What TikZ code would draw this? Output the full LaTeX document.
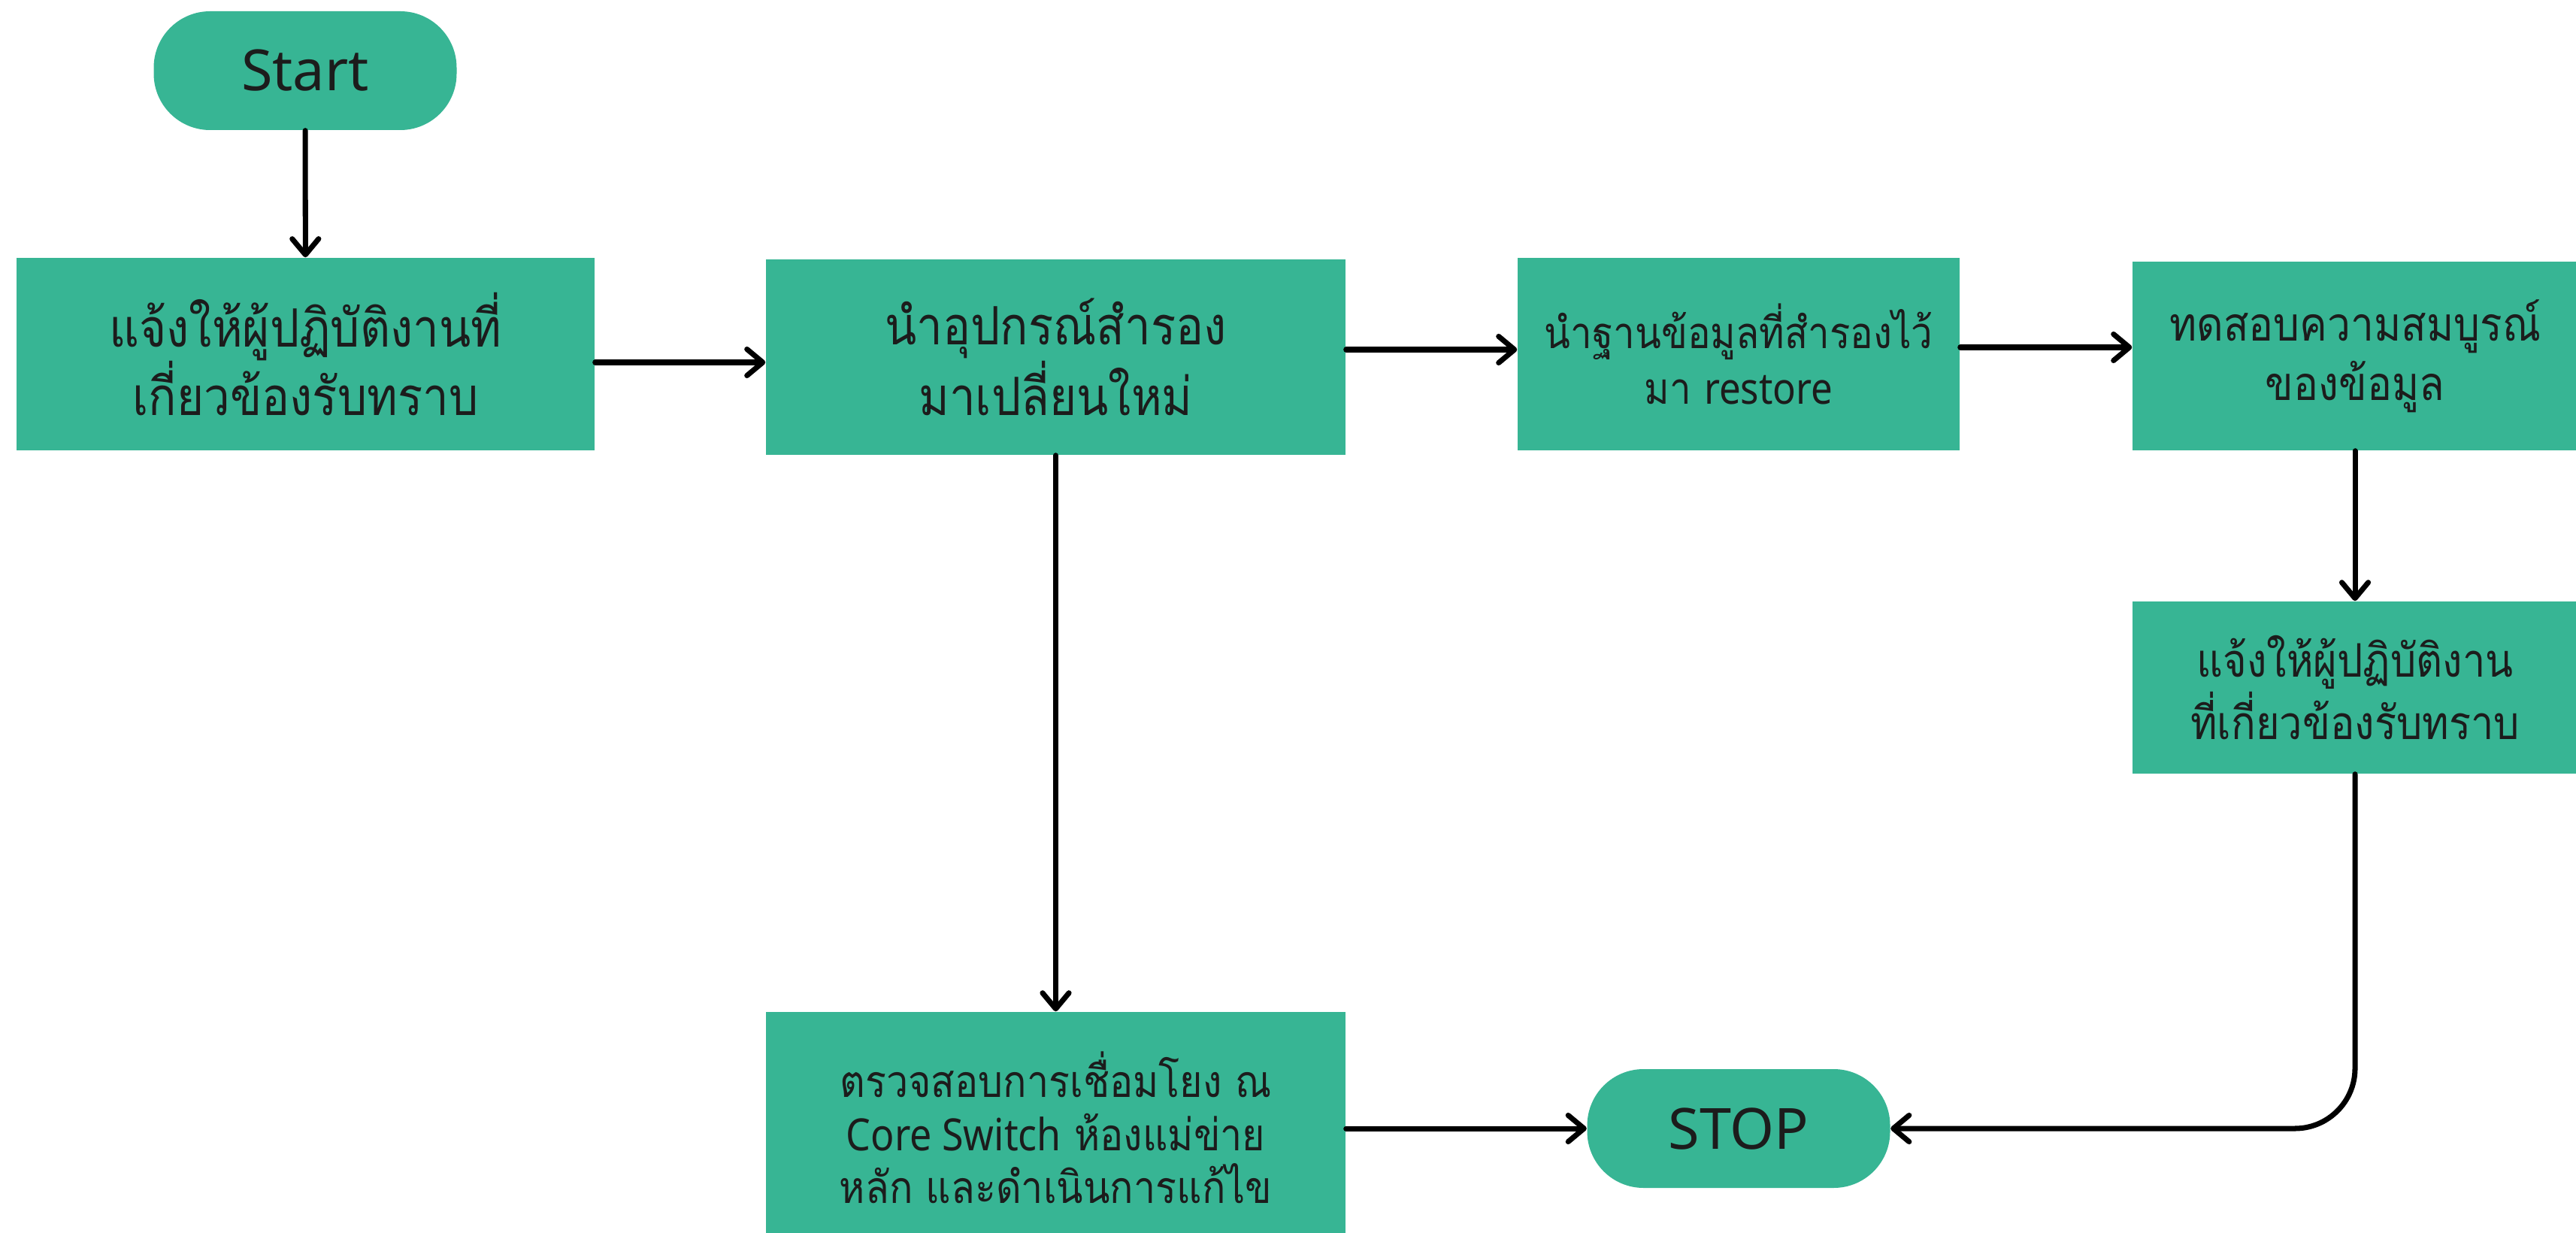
\documentclass[tikz,border=0pt]{standalone}
\usepackage{fontspec}
\newfontfamily\thaifont[Script=Thai, FakeStretch=0.88]{Loma}
\newfontfamily\latinfont[FakeStretch=0.88]{Noto Sans}
\newfontfamily\termfont{Noto Sans}
\usetikzlibrary{arrows.meta}
\definecolor{boxgreen}{HTML}{37B594}
\definecolor{ink}{HTML}{1C1C1C}
\tikzset{
  procbox/.style={rectangle, fill=boxgreen, text=ink, align=center, inner sep=0pt},
  termbox/.style={rectangle, rounded corners=0.75cm, fill=boxgreen, text=ink,
    align=center, inner sep=0pt, minimum width=4.03cm, minimum height=1.58cm,
    font=\termfont\fontsize{21.5}{26}\selectfont},
  flow/.style={draw=black, line width=2pt, line join=round, line cap=round,
    -{Straight Barb[length=6pt,width=10pt,line width=2pt,round]}},
}
\begin{document}
\begin{tikzpicture}
\useasboundingbox (0,0) rectangle (34.27,-16.40);
\clip (0,0) rectangle (34.27,-16.40);
\fill[white] (0,0) rectangle (34.27,-16.40);

% terminals
\node[termbox] (start) at (4.06,-0.94) {Start};
\node[termbox] (stop) at (23.13,-15.01) {STOP};

% process steps
\node[procbox, minimum width=7.69cm, minimum height=2.56cm,
  font=\thaifont\fontsize{20}{26}\selectfont] (notify1) at (4.065,-4.71)
  {แจ้งให้ผู้ปฏิบัติงานที่\\เกี่ยวข้องรับทราบ};
\node[procbox, minimum width=7.71cm, minimum height=2.60cm,
  font=\thaifont\fontsize{20}{25}\selectfont] (replace) at (14.045,-4.75)
  {นำอุปกรณ์สำรอง\\มาเปลี่ยนใหม่};
\node[procbox, minimum width=5.88cm, minimum height=2.56cm,
  font=\thaifont\fontsize{16.5}{21}\selectfont] (restore) at (23.13,-4.71)
  {นำฐานข้อมูลที่สำรองไว้\\มา {\latinfont restore}};
\node[procbox, minimum width=5.92cm, minimum height=2.51cm,
  font=\thaifont\fontsize{17.8}{22.5}\selectfont] (verify) at (31.33,-4.735)
  {ทดสอบความสมบูรณ์\\ของข้อมูล};
\node[procbox, minimum width=5.92cm, minimum height=2.29cm,
  font=\thaifont\fontsize{17.5}{22}\selectfont] (notify2) at (31.33,-9.145)
  {แจ้งให้ผู้ปฏิบัติงาน\\ที่เกี่ยวข้องรับทราบ};
\node[procbox, minimum width=7.71cm, minimum height=3.08cm,
  font=\thaifont\fontsize{16.8}{20}\selectfont] (check) at (14.045,-15.0)
  {ตรวจสอบการเชื่อมโยง ณ\\{\latinfont Core Switch} ห้องแม่ข่าย\\หลัก และดำเนินการแก้ไข};

% connectors
\draw[flow] (start) -- (notify1);
\draw[flow] (notify1.east |- 0,-4.82) -- (replace.west |- 0,-4.82);
\draw[flow] (replace.east |- 0,-4.65) -- (restore.west |- 0,-4.65);
\draw[flow] (restore.east |- 0,-4.62) -- (verify.west |- 0,-4.62);
\draw[flow] (verify) -- (notify2);
\draw[flow] (replace) -- (check);
\draw[flow] (check.east |- stop.west) -- (stop.west);
\draw[flow, rounded corners=0.8cm] (notify2.south) |- (stop.east);
\end{tikzpicture}
\end{document}
